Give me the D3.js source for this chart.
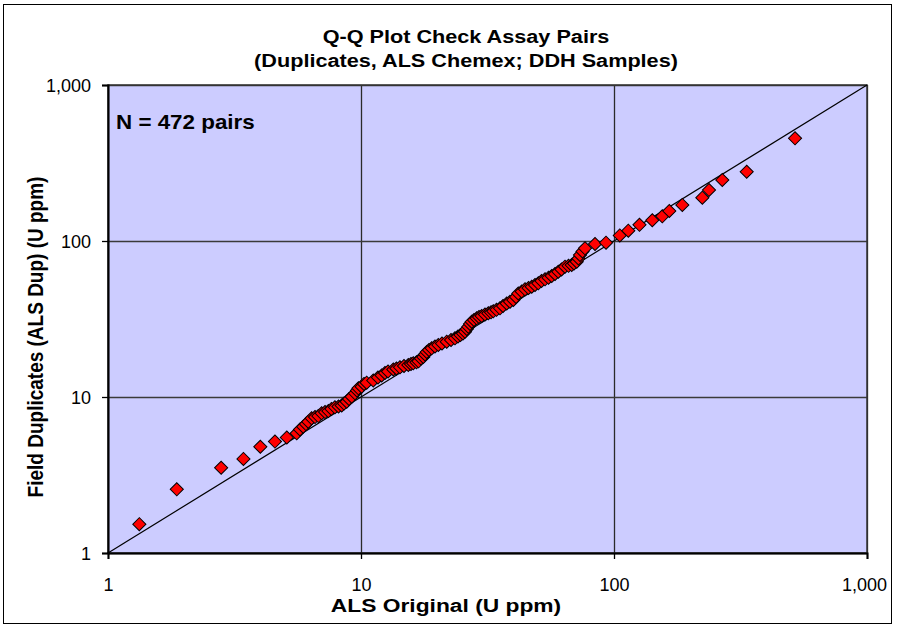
<!DOCTYPE html>
<html>
<head>
<meta charset="utf-8">
<script src="https://cdn.jsdelivr.net/npm/d3@7"></script>
<style>
  html, body { margin: 0; padding: 0; background: #ffffff; }
  svg text { font-family: Arial, "Liberation Sans", sans-serif; fill: #000; }
</style>
</head>
<body>
<svg id="chart" width="899" height="628"></svg>
<script>
// Sorted quantiles of the check-assay pairs (U ppm)
const origValues = [1.33,1.87,2.80,3.43,4.00,4.57,5.09,5.57,5.74,5.91,
  6.06,6.19,6.38,6.58,6.78,6.99,7.21,7.43,7.64,7.89,
  8.15,8.39,8.57,8.78,8.97,9.19,9.47,9.64,9.77,10.06,
  10.28,10.53,11.18,11.67,12.07,12.44,12.79,13.42,13.81,14.26,
  14.79,15.38,15.76,16.09,16.57,16.88,17.27,17.63,17.91,18.19,
  18.57,19.03,19.61,20.21,20.90,21.82,22.69,23.52,24.17,24.73,
  25.30,25.77,26.19,26.56,26.97,27.39,27.97,28.67,29.27,29.99,
  30.91,31.86,32.65,33.34,34.33,35.43,36.42,37.67,38.81,40.00,
  41.00,41.85,43.17,44.49,45.93,47.30,48.73,50.22,51.70,53.38,
  55.10,56.74,58.47,60.25,62.03,64.03,66.11,68.06,69.50,71.23,
  72.40,73.39,75.08,76.81,84.13,92.99,105.4,113.9,126.1,141.7,
  155.2,165.4,186.2,223.4,237.4,267.9,334.6,519.4];
const dupValues = [1.53,2.56,3.52,4.01,4.80,5.18,5.50,5.85,6.19,6.45,
  6.71,6.95,7.30,7.44,7.55,7.86,8.01,8.13,8.38,8.59,
  8.69,8.82,9.08,9.33,9.71,10.04,10.56,11.01,11.37,11.64,
  12.12,12.35,12.76,13.34,13.74,14.25,14.57,15.01,15.23,15.50,
  15.80,16.04,16.27,16.44,16.69,16.93,17.65,18.05,18.73,19.44,
  20.02,20.52,21.08,21.54,22.02,22.62,23.19,23.78,24.42,24.97,
  25.53,26.22,27.29,28.22,29.37,30.39,31.16,31.95,32.57,33.05,
  33.79,34.39,34.91,35.43,36.22,37.03,38.31,39.76,40.83,41.88,
  43.75,46.08,47.46,49.01,49.96,50.94,52.24,53.56,55.40,56.81,
  58.16,59.64,61.43,63.55,65.65,68.43,69.34,70.18,71.74,73.68,
  77.24,81.33,85.65,89.80,95.67,97.52,108.5,116.4,127.0,135.8,
  143.9,155.7,170.2,189.5,212.3,246.0,278.0,455.2];

const tickValues = [1, 10, 100, 1000];
const tickLabels = ["1", "10", "100", "1,000"];
const equalityLine = [1, 1000];

const titleLines = ["Q-Q Plot Check Assay Pairs", "(Duplicates, ALS Chemex; DDH Samples)"];
const xTitle = "ALS Original (U ppm)";
const yTitle = "Field Duplicates (ALS Dup) (U ppm)";
const countLabel = "N = 472 pairs";

const svg = d3.select("#chart");
const plot = { left: 108, right: 867, top: 85, bottom: 553 };

const x = d3.scaleLog().domain([1, 1000]).range([plot.left, plot.right]);
const y = d3.scaleLog().domain([1, 1000]).range([plot.bottom, plot.top]);

// place a text node at (px, py), widening it about its anchor by k
function place(sel, px, py, k) {
  sel.attr("x", 0).attr("y", 0).attr("transform", `translate(${px},${py}) scale(${k},1)`);
}

// outer chart frame
svg.append("rect")
  .attr("x", 3.5).attr("y", 4.5).attr("width", 888).attr("height", 619)
  .attr("fill", "#fff").attr("stroke", "#000").attr("stroke-width", 1);

// plot background
svg.append("rect")
  .attr("x", plot.left).attr("y", plot.top)
  .attr("width", plot.right - plot.left).attr("height", plot.bottom - plot.top)
  .attr("fill", "#ccccff");

// gridlines
const tickFmt = d => tickLabels[tickValues.indexOf(d)];
svg.append("g")
  .attr("transform", `translate(0,${plot.bottom})`)
  .call(d3.axisBottom(x).tickValues(tickValues).tickSize(-(plot.bottom - plot.top)).tickFormat(""))
  .call(g => g.select(".domain").remove())
  .call(g => g.selectAll("line").attr("stroke", "#2a2a2a").attr("stroke-width", 1.3));
svg.append("g")
  .attr("transform", `translate(${plot.left},0)`)
  .call(d3.axisLeft(y).tickValues(tickValues).tickSize(-(plot.right - plot.left)).tickFormat(""))
  .call(g => g.select(".domain").remove())
  .call(g => g.selectAll("line").attr("stroke", "#3a3a3a").attr("stroke-width", 1.5));

// plot border
svg.append("rect")
  .attr("x", plot.left).attr("y", plot.top)
  .attr("width", plot.right - plot.left).attr("height", plot.bottom - plot.top)
  .attr("fill", "none").attr("stroke", "#333").attr("stroke-width", 1.5);

// axes with tick labels
svg.append("g")
  .attr("transform", `translate(0,${plot.bottom})`)
  .call(d3.axisBottom(x).tickValues(tickValues).tickSize(6).tickFormat(tickFmt))
  .call(g => g.select(".domain").attr("stroke", "#000").attr("stroke-width", 2))
  .call(g => g.selectAll("line").attr("stroke", "#000").attr("stroke-width", 1.3))
  .call(g => g.selectAll("text")
    .attr("font-size", 18).attr("dy", null)
    .each(function(d) { place(d3.select(this), d === 1000 ? -3 : 0, 38, 1); }));
svg.append("g")
  .attr("transform", `translate(${plot.left},0)`)
  .call(d3.axisLeft(y).tickValues(tickValues).tickSize(6).tickFormat(tickFmt))
  .call(g => g.select(".domain").attr("stroke", "#000").attr("stroke-width", 2))
  .call(g => g.selectAll("text")
    .attr("font-size", 18).attr("dy", "0.35em")
    .each(function() { place(d3.select(this), -17, 0, 1); }))
  .call(g => g.selectAll("line").attr("stroke", "#000").attr("stroke-width", 1.3));

// 1:1 reference line
svg.append("line")
  .attr("x1", x(equalityLine[0])).attr("y1", y(equalityLine[0]))
  .attr("x2", x(equalityLine[1])).attr("y2", y(equalityLine[1]))
  .attr("stroke", "#000").attr("stroke-width", 1.2);

// quantile pairs as red diamonds
const pairs = origValues.map((v, i) => ({ orig: v, dup: dupValues[i] }));
const diamond = d3.symbol().type(d3.symbolSquare).size(86);
svg.append("g").selectAll("path")
  .data(pairs)
  .join("path")
  .attr("d", diamond)
  .attr("transform", d => `translate(${x(d.orig)},${y(d.dup)}) rotate(45)`)
  .attr("fill", "#ff0000")
  .attr("stroke", "#000")
  .attr("stroke-width", 1);

// sample count
svg.append("text")
  .attr("font-size", 20).attr("font-weight", "bold")
  .text(countLabel)
  .call(place, 116, 129, 1.12);

// titles
svg.append("g").selectAll("text")
  .data(titleLines)
  .join("text")
  .attr("text-anchor", "middle")
  .attr("font-size", 19).attr("font-weight", "bold")
  .text(d => d)
  .each(function(d, i) { place(d3.select(this), 466, 43 + i * 24, 1.14); });

svg.append("text")
  .attr("text-anchor", "middle")
  .attr("font-size", 19).attr("font-weight", "bold")
  .text(xTitle)
  .call(place, 446, 612, 1.2);

svg.append("text")
  .attr("transform", "translate(43,337) scale(1.15,1) rotate(-90)")
  .attr("text-anchor", "middle")
  .attr("font-size", 19).attr("font-weight", "bold")
  .text(yTitle);
</script>
</body>
</html>
